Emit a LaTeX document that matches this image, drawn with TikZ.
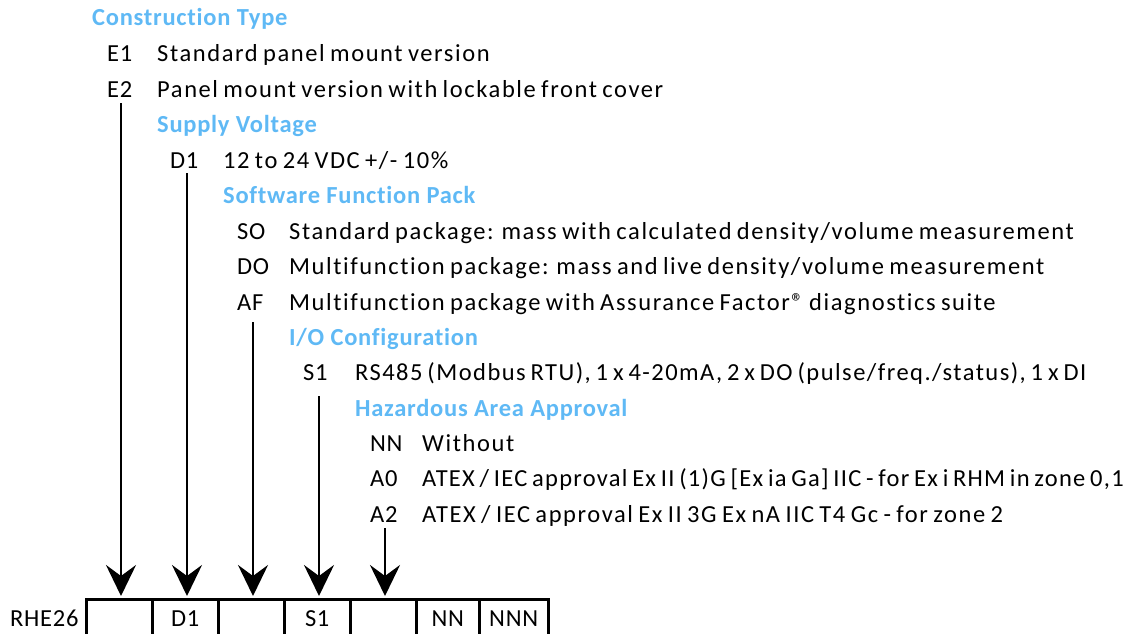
\documentclass[tikz,border=0pt]{standalone}
\usepackage{fontspec}
\setmainfont{Carlito}[RawFeature=-liga]
\newfontfamily\bodyfont{Carlito}[RawFeature=-liga,LetterSpace=6.5,WordSpace=0.75]
\newfontfamily\bodyfontA{Carlito}[RawFeature=-liga,LetterSpace=6,WordSpace=0.7]
\newfontfamily\bodyfontB{Carlito}[RawFeature=-liga,LetterSpace=5.2,WordSpace=0.7]
\newfontfamily\codefont{Carlito}[RawFeature=-liga,LetterSpace=3]
\newfontfamily\headfont{Carlito}[RawFeature=-liga,LetterSpace=3,BoldFont={Carlito Bold}]
\usetikzlibrary{arrows.meta}
\definecolor{headblue}{RGB}{95,185,245}
\tikzset{
  x=1pt,y=-1pt,
  head/.style={anchor=base west,inner sep=0pt,font=\headfont\fontsize{24.5}{28}\selectfont\bfseries,text=headblue},
  code/.style={anchor=base west,inner sep=0pt,font=\codefont\fontsize{24.5}{28}\selectfont},
  desc/.style={anchor=base west,inner sep=0pt,font=\bodyfont\fontsize{24.5}{28}\selectfont},
  descA/.style={desc,font=\bodyfontA\fontsize{24.5}{28}\selectfont},
  descB/.style={desc,font=\bodyfontB\fontsize{24.5}{28}\selectfont},
  cell/.style={minimum width=66pt,minimum height=35pt,text height=22pt,text depth=3pt,inner sep=0pt,anchor=north west,font=\codefont\fontsize{24.5}{28}\selectfont},
  cellline/.style={line width=3pt,line join=miter},
  arr/.style={line width=2.5pt,-{Stealth[length=31pt,width=30pt,inset=11pt]},shorten >=3pt}
}
\begin{document}
\begin{tikzpicture}
\useasboundingbox (0,0) rectangle (1129,634);
% headings and options
\node[head] (h1) at (92,26) {Construction Type};
\node[code] (e1) at (107,62) {E1};
\node[desc] (e1t) at (157,62) {Standard panel mount version};
\node[code] (e2) at (107,97) {E2};
\node[desc] (e2t) at (157,97) {Panel mount version with lockable front cover};
\node[head] (h2) at (157,132) {Supply Voltage};
\node[code] (d1) at (170,168) {D1};
\node[desc] (d1t) at (223,168) {12 to 24 VDC +/- 10\%};
\node[head] (h3) at (223,203) {Software Function Pack};
\node[code] (so) at (237,239) {SO};
\node[desc] (sot) at (289,239) {Standard package: mass with calculated density/volume measurement};
\node[code] (do) at (237,274) {DO};
\node[desc] (dot) at (289,274) {Multifunction package: mass and live density/volume measurement};
\node[code] (af) at (237,310) {AF};
\node[desc] (aft) at (289,310) {Multifunction package with Assurance Factor® diagnostics suite};
\node[head] (h4) at (289,345) {I/O Configuration};
\node[code] (s1) at (303,380) {S1};
\node[descA] (s1t) at (355,380) {RS485 (Modbus RTU), 1 x 4-20mA, 2 x DO (pulse/freq./status), 1 x DI};
\node[head] (h5) at (355,416) {Hazardous Area Approval};
\node[code] (nn) at (370,451) {NN};
\node[desc] (nnt) at (422,451) {Without};
\node[code] (a0) at (370,486) {A0};
\node[descB] (a0t) at (422,486) {ATEX / IEC approval Ex II (1)G [Ex ia Ga] IIC - for Ex i RHM in zone 0,1};
\node[code] (a2) at (370,522) {A2};
\node[desc] (a2t) at (422,522) {ATEX / IEC approval Ex II 3G Ex nA IIC T4 Gc - for zone 2};
% order code row
\node[code] (rhe) at (10,626) {RHE26};
\node[cell] (b1) at (86,599) {};
\node[cell] (b2) at (152,599) {D1};
\node[cell] (b3) at (218,599) {};
\node[cell] (b4) at (284,599) {S1};
\node[cell] (b5) at (350,599) {};
\node[cell,minimum width=63pt] (b6) at (416,599) {NN};
\node[cell,minimum width=69pt] (b7) at (479,599) {NNN};
\draw[cellline] (b1.south west) -- (b1.north west) -- (b7.north east) -- (b7.south east);
\foreach \c in {b2,b3,b4,b5,b6,b7} \draw[cellline] (\c.north west) -- (\c.south west);
% arrows
\coordinate (p1) at (121,103);
\coordinate (p2) at (187,173);
\coordinate (p3) at (253,322);
\coordinate (p4) at (319,396);
\coordinate (p5) at (385,528);
\draw[arr] (p1) -- (p1 |- b1.north);
\draw[arr] (p2) -- (p2 |- b2.north);
\draw[arr] (p3) -- (p3 |- b3.north);
\draw[arr] (p4) -- (p4 |- b4.north);
\draw[arr] (p5) -- (p5 |- b5.north);
\end{tikzpicture}
\end{document}
